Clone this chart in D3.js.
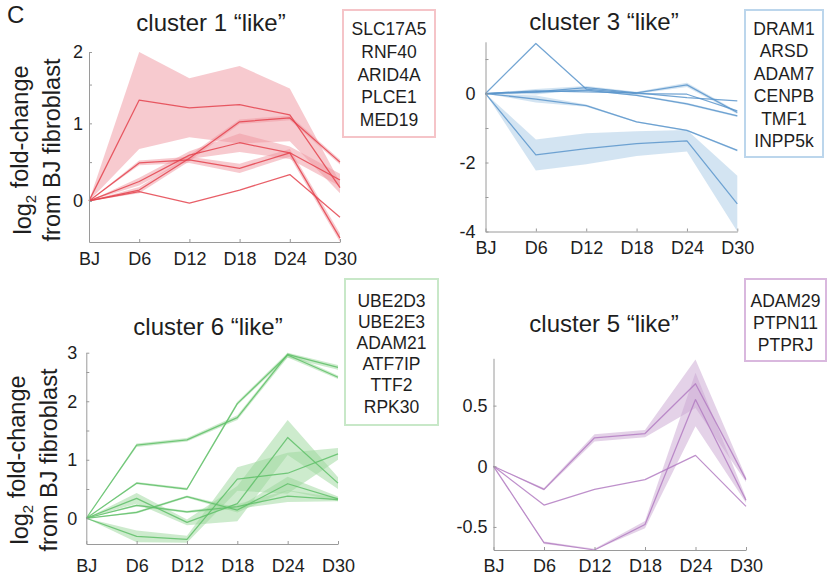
<!DOCTYPE html>
<html>
<head>
<meta charset="utf-8">
<script src="https://cdn.jsdelivr.net/npm/d3@7"></script>
<style>
  html, body { margin: 0; padding: 0; background: #fff; }
  svg { display: block; font-family: "Liberation Sans", Arial, Helvetica, sans-serif; }
</style>
</head>
<body>
<svg id="chart" width="827" height="576"></svg>
<script>
// ---------------- DATA ----------------
const timepoints = ["BJ", "D6", "D12", "D18", "D24", "D30"];

// cluster 1 "like"
const c1Title = "cluster 1 \u201clike\u201d";
const c1Genes = ["SLC17A5", "RNF40", "ARID4A", "PLCE1", "MED19"];
const c1Mean = [
  [0, 1.30, 1.20, 1.24, 1.11, 0.17],
  [0, 0.14, 0.55, 1.02, 1.07, 0.50],
  [0, 0.25, 0.59, 0.75, 0.62, 0.27],
  [0, 0.49, 0.53, 0.42, 0.62, -0.48],
  [0, 0.12, -0.03, 0.14, 0.34, -0.21]
];
const c1Spread = [
  [0, 0.63, 0.38, 0.50, 0.34, 0.07],
  [0, 0.04, 0.04, 0.03, 0.03, 0.03],
  [0, 0.05, 0.05, 0.12, 0.08, 0.08],
  [0, 0.03, 0.04, 0.06, 0.05, 0.06],
  [0, 0, 0, 0, 0, 0]
];
const c1YDomain = [-0.53, 1.92];
const c1YTicks = [0, 1, 2];
const c1YMinor = [0.5, 1.5];

// cluster 3 "like"
const c3Title = "cluster 3 \u201clike\u201d";
const c3Genes = ["DRAM1", "ARSD", "ADAM7", "CENPB", "TMF1", "INPP5k"];
const c3Mean = [
  [0, 1.45, 0.13, 0.00, -0.02, -0.50],
  [0, 0.05, 0.17, 0.02, 0.25, -0.55],
  [0, 0.08, 0.05, 0.02, -0.12, -0.21],
  [0, 0.04, 0.10, -0.05, -0.30, -0.65],
  [0, -0.16, -0.35, -0.82, -1.07, -1.65],
  [0, -1.78, -1.60, -1.45, -1.37, -3.20]
];
const c3Spread = [
  [0, 0, 0, 0, 0, 0],
  [0, 0.08, 0.05, 0.03, 0.06, 0.04],
  [0, 0, 0, 0, 0, 0],
  [0, 0.03, 0.02, 0.02, 0.03, 0.03],
  [0, 0.10, 0.03, 0.02, 0.02, 0.03],
  [0, 0.45, 0.45, 0.36, 0.31, 0.82]
];
const c3YDomain = [-4, 1.5];
const c3YTicks = [-4, -2, 0];
const c3YMinor = [-3, -1, 1];

// cluster 6 "like"
const c6Title = "cluster 6 \u201clike\u201d";
const c6Genes = ["UBE2D3", "UBE2E3", "ADAM21", "ATF7IP", "TTF2", "RPK30"];
const c6Mean = [
  [0, 1.25, 1.34, 1.72, 2.80, 2.58],
  [0, 0.60, 0.50, 1.96, 2.79, 2.41],
  [0, 0.34, -0.07, 0.25, 1.38, 0.60],
  [0, -0.31, -0.36, 0.67, 0.77, 1.10],
  [0, 0.10, 0.37, 0.14, 0.59, 0.33],
  [0, 0.22, 0.11, 0.20, 0.38, 0.32]
];
const c6Spread = [
  [0, 0.03, 0.03, 0.04, 0.05, 0.04],
  [0, 0.02, 0.02, 0.03, 0.04, 0.03],
  [0, 0.09, 0.05, 0.30, 0.30, 0.10],
  [0, 0.10, 0.06, 0.20, 0.35, 0.10],
  [0, 0.02, 0.02, 0.04, 0.12, 0.04],
  [0, 0.02, 0.02, 0.04, 0.10, 0.03]
];
const c6YDomain = [-0.44, 2.83];
const c6YTicks = [0, 1, 2, 3];
const c6YMinor = [0.5, 1.5, 2.5];

// cluster 5 "like"
const c5Title = "cluster 5 \u201clike\u201d";
const c5Genes = ["ADAM29", "PTPN11", "PTPRJ"];
const c5Mean = [
  [0, -0.19, 0.235, 0.27, 0.68, -0.11],
  [0, -0.32, -0.19, -0.11, 0.09, -0.33],
  [0, -0.63, -0.69, -0.48, 0.55, -0.28]
];
const c5Spread = [
  [0, 0.01, 0.03, 0.03, 0.20, 0.02],
  [0, 0, 0, 0, 0, 0],
  [0, 0.01, 0.01, 0.03, 0.22, 0.02]
];
const c5YDomain = [-0.69, 0.89];
const c5YTicks = [-0.5, 0, 0.5];
const c5YMinor = [];

const yLabelLine1 = ["log", "2", " fold-change"];
const yLabelLine2 = "from BJ fibroblast";
const panelLetter = "C";

// ---------------- DRAWING ----------------
const svg = d3.select("#chart");
const FONT = "\"Liberation Sans\", Arial, Helvetica, sans-serif";
const TEXT = "#1e1e1e";
const AXIS = "#9a9a9a";

svg.append("text").attr("x", 7).attr("y", 23)
  .attr("font-size", 24).attr("fill", TEXT).text(panelLetter);

function drawPanel(p) {
  const g = svg.append("g");
  const x = d3.scalePoint().domain(timepoints).range(p.xRange);
  const y = d3.scaleLinear().domain(p.yDomain).range(p.yRange).clamp(true);

  // bands
  const area = d3.area()
    .x((d, i) => x(timepoints[i]))
    .y0(d => y(d[0] - d[1]))
    .y1(d => y(d[0] + d[1]));
  p.mean.forEach((m, k) => {
    const pts = m.map((v, i) => [v, p.spread[k][i]]);
    if (d3.max(p.spread[k]) > 0) {
      g.append("path").datum(pts).attr("d", area)
        .attr("fill", p.band).attr("fill-opacity", 0.5).attr("stroke", "none");
    }
  });

  // lines
  const line = d3.line().x((d, i) => x(timepoints[i])).y(d => y(d));
  p.mean.forEach(m => {
    g.append("path").datum(m).attr("d", line)
      .attr("fill", "none").attr("stroke", p.line)
      .attr("stroke-width", 1.25).attr("stroke-opacity", 0.85)
      .attr("stroke-linejoin", "round");
  });

  // y axis
  const tickVals = p.yTicks.concat(p.yMinor);
  const majors = new Set(p.yTicks);
  const ya = g.append("g").attr("transform", `translate(${p.xRange[0]},0)`)
    .call(d3.axisLeft(y).tickValues(tickVals)
      .tickFormat(d => majors.has(d) ? String(d) : "")
      .tickSizeInner(-3).tickSizeOuter(0).tickPadding(p.yPad));
  ya.select(".domain").attr("stroke", AXIS);
  ya.selectAll(".tick line").attr("stroke", AXIS);
  ya.selectAll(".tick text").attr("font-size", 18).attr("fill", TEXT).attr("font-family", FONT);

  // x axis
  const xa = g.append("g").attr("transform", `translate(0,${p.yRange[0]})`)
    .call(d3.axisBottom(x).tickSizeInner(-3).tickSizeOuter(0).tickPadding(p.xPad));
  xa.select(".domain").attr("stroke", AXIS);
  xa.selectAll(".tick line").attr("stroke", AXIS);
  xa.selectAll(".tick text").attr("font-size", 18).attr("fill", TEXT).attr("font-family", FONT);

  // title
  g.append("text").attr("x", p.title[1]).attr("y", p.title[2])
    .attr("text-anchor", "middle").attr("font-size", 24).attr("fill", TEXT)
    .text(p.title[0]);

  // gene box
  const b = p.box;
  g.append("rect").attr("x", b.x).attr("y", b.y).attr("width", b.w).attr("height", b.h)
    .attr("fill", "#fff").attr("stroke", p.boxStroke).attr("stroke-width", 2);
  p.genes.forEach((gn, i) => {
    g.append("text").attr("x", b.x + b.w / 2).attr("y", b.first + i * b.step)
      .attr("text-anchor", "middle").attr("font-size", 17.5).attr("fill", TEXT).text(gn);
  });

  // y label
  if (p.ylab) {
    const t1 = g.append("text")
      .attr("transform", `translate(${p.ylab.x1},${p.ylab.cy}) rotate(-90)`)
      .attr("text-anchor", "middle").attr("font-size", 23.5).attr("fill", TEXT);
    t1.append("tspan").text(yLabelLine1[0]);
    t1.append("tspan").attr("font-size", 15).attr("dy", "0.3em").text(yLabelLine1[1]);
    t1.append("tspan").attr("dy", "-0.3em").text(yLabelLine1[2]);
    g.append("text")
      .attr("transform", `translate(${p.ylab.x2},${p.ylab.cy}) rotate(-90)`)
      .attr("text-anchor", "middle").attr("font-size", 23.5).attr("fill", TEXT)
      .text(yLabelLine2);
  }
}

drawPanel({
  mean: c1Mean, spread: c1Spread, yDomain: c1YDomain, yTicks: c1YTicks, yMinor: c1YMinor,
  xRange: [89, 340], yRange: [242, 52], yPad: 6, xPad: 10,
  line: "#e4434e", band: "#f0959f", boxStroke: "#f5c4c8",
  title: [c1Title, 211, 31],
  genes: c1Genes, box: { x: 343, y: 10, w: 92, h: 127, first: 35, step: 22.8 },
  ylab: { x1: 31, x2: 60, cy: 150 }
});
drawPanel({
  mean: c3Mean, spread: c3Spread, yDomain: c3YDomain, yTicks: c3YTicks, yMinor: c3YMinor,
  xRange: [485.5, 737.3], yRange: [231.5, 41.8], yPad: 10, xPad: 10,
  line: "#5b95cb", band: "#a8c9e6", boxStroke: "#bcd6ec",
  title: [c3Title, 604, 30],
  genes: c3Genes, box: { x: 745, y: 10, w: 78, h: 147, first: 35, step: 22.4 }
});
drawPanel({
  mean: c6Mean, spread: c6Spread, yDomain: c6YDomain, yTicks: c6YTicks, yMinor: c6YMinor,
  xRange: [86.3, 338], yRange: [544, 352.7], yPad: 9, xPad: 15,
  line: "#5fbf68", band: "#9bd79b", boxStroke: "#c8e8c8",
  title: [c6Title, 208, 335],
  genes: c6Genes, box: { x: 345, y: 279, w: 93, h: 146, first: 307, step: 21.1 },
  ylab: { x1: 28, x2: 57, cy: 460 }
});
drawPanel({
  mean: c5Mean, spread: c5Spread, yDomain: c5YDomain, yTicks: c5YTicks, yMinor: c5YMinor,
  xRange: [493.5, 746], yRange: [550, 358.3], yPad: 6, xPad: 9,
  line: "#b37cc2", band: "#c9a5d1", boxStroke: "#d9b8de",
  title: [c5Title, 604, 332],
  genes: c5Genes, box: { x: 745, y: 279, w: 81, h: 82, first: 307, step: 22 }
});
</script>
</body>
</html>
